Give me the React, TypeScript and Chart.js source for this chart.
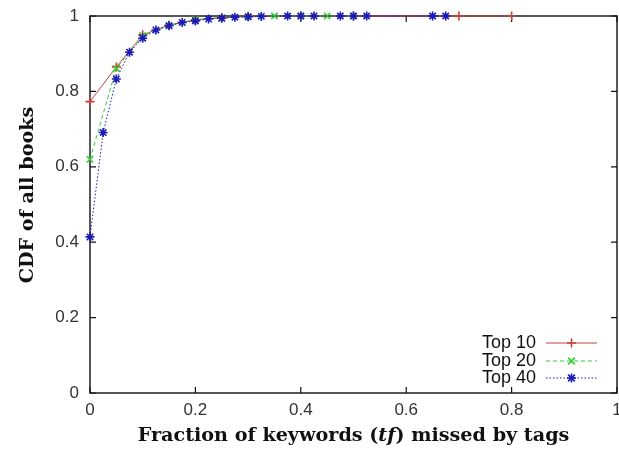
import React, { useEffect, useRef } from "react";
import { Chart, registerables } from "chart.js";

Chart.register(...registerables);

// ---- data ----
const top10X = [0, 0.05, 0.1, 0.15, 0.2, 0.25, 0.3, 0.4, 0.5, 0.7, 0.8];
const top10Y = [0.773, 0.865, 0.95, 0.976, 0.99, 0.996, 0.999, 1, 1, 1, 1];
const top20X = [0, 0.05, 0.1, 0.15, 0.2, 0.25, 0.3, 0.35, 0.4, 0.45, 0.5];
const top20Y = [0.62, 0.861, 0.948, 0.975, 0.99, 0.995, 0.998, 1, 1, 1, 1];
const top40X = [0, 0.025, 0.05, 0.075, 0.1, 0.125, 0.15, 0.175, 0.2, 0.225, 0.25, 0.275, 0.3, 0.325, 0.375, 0.4, 0.425, 0.475, 0.5, 0.525, 0.65, 0.675];
const top40Y = [0.414, 0.691, 0.833, 0.904, 0.941, 0.963, 0.974, 0.983, 0.987, 0.992, 0.994, 0.997, 0.998, 0.999, 1, 1, 1, 1, 1, 1, 1, 1];
const seriesLabels = ["Top 10", "Top 20", "Top 40"];
const seriesColors = ["#c8403c", "#33cc33", "#1a1ab4"];
const seriesDash: number[][] = [[], [4, 3], [1.5, 2]];
const seriesMarkers = ["cross", "crossRot", "star"];
const xTicks = [0, 0.2, 0.4, 0.6, 0.8, 1];
const xTickLabels = ["0", "0.2", "0.4", "0.6", "0.8", "1"];
const yTicks = [0, 0.2, 0.4, 0.6, 0.8, 1];
const yTickLabels = ["0", "0.2", "0.4", "0.6", "0.8", "1"];
const xTitleParts = [
  { text: "Fraction of keywords (", italic: false },
  { text: "tf", italic: true },
  { text: ") missed by tags", italic: false },
];
const yTitle = "CDF of all books";

const TITLE_FAMILY = '"DejaVu Serif", "Liberation Serif", serif';
const SANS = '"Liberation Sans", Arial, sans-serif';
const LEGEND_FONT = '18px "Liberation Sans", Arial, sans-serif';

function drawMarker(ctx: CanvasRenderingContext2D, style: string, x: number, y: number, r: number) {
  ctx.beginPath();
  if (style === "cross" || style === "star") {
    ctx.moveTo(x - r, y); ctx.lineTo(x + r, y);
    ctx.moveTo(x, y - r); ctx.lineTo(x, y + r);
  }
  if (style === "crossRot" || style === "star") {
    const d = r * 0.75;
    ctx.moveTo(x - d, y - d); ctx.lineTo(x + d, y + d);
    ctx.moveTo(x - d, y + d); ctx.lineTo(x + d, y - d);
  }
  ctx.stroke();
}

const framePlugin = {
  id: "frame",
  beforeDatasetsDraw(chart: any) {
    const { ctx, chartArea: a, scales } = chart;
    ctx.save();
    ctx.strokeStyle = "#111";
    ctx.lineWidth = 1.4;
    ctx.strokeRect(a.left, a.top, a.right - a.left, a.bottom - a.top);
    ctx.lineWidth = 1.2;
    const len = 6;
    ctx.beginPath();
    for (const v of xTicks) {
      const px = scales.x.getPixelForValue(v);
      ctx.moveTo(px, a.bottom); ctx.lineTo(px, a.bottom - len);
      ctx.moveTo(px, a.top); ctx.lineTo(px, a.top + len);
    }
    for (const v of yTicks) {
      const py = scales.y.getPixelForValue(v);
      ctx.moveTo(a.left, py); ctx.lineTo(a.left + len, py);
      ctx.moveTo(a.right, py); ctx.lineTo(a.right - len, py);
    }
    ctx.stroke();
    ctx.restore();
  },
};

const titlesPlugin = {
  id: "titles",
  afterDraw(chart: any) {
    const { ctx, chartArea: a } = chart;
    ctx.save();
    ctx.fillStyle = "#111";
    ctx.textBaseline = "middle";
    const base = 16;
    const fontFor = (s: number, it: boolean) => `${it ? "italic " : ""}bold ${s}px ${TITLE_FAMILY}`;
    let w = 0;
    for (const p of xTitleParts) { ctx.font = fontFor(base, p.italic); w += ctx.measureText(p.text).width; }
    const size = base * 432 / w;
    let total = 0;
    const widths: number[] = [];
    for (const p of xTitleParts) { ctx.font = fontFor(size, p.italic); const ww = ctx.measureText(p.text).width; widths.push(ww); total += ww; }
    const cx = (a.left + a.right) / 2;
    let x = cx - total / 2;
    ctx.textAlign = "left";
    xTitleParts.forEach((p, i) => {
      ctx.font = fontFor(size, p.italic);
      ctx.fillText(p.text, x, 436);
      x += widths[i];
    });
    ctx.font = fontFor(size, false);
    ctx.translate(28, 195);
    ctx.rotate(-Math.PI / 2);
    ctx.textAlign = "center";
    ctx.fillText(yTitle, 0, 0);
    ctx.restore();
  },
};

const legendPlugin = {
  id: "customLegend",
  afterDraw(chart: any) {
    const { ctx } = chart;
    const rows = [343, 361, 378];
    ctx.save();
    chart.data.datasets.forEach((ds: any, i: number) => {
      const y = rows[i];
      ctx.font = LEGEND_FONT;
      ctx.fillStyle = "#111";
      ctx.textAlign = "right";
      ctx.textBaseline = "middle";
      ctx.fillText(ds.label, 536, y);
      ctx.strokeStyle = ds.borderColor;
      ctx.lineWidth = 1;
      ctx.setLineDash(ds.borderDash || []);
      ctx.beginPath();
      ctx.moveTo(546, y); ctx.lineTo(597, y);
      ctx.stroke();
      ctx.setLineDash([]);
      ctx.lineWidth = 1.6;
      drawMarker(ctx, ds.pointStyle, 571.5, y, 4.5);
    });
    ctx.restore();
  },
};

export default function App() {
  const ref = useRef<HTMLCanvasElement>(null);
  useEffect(() => {
    document.body.style.margin = "0";
    const xs = [top10X, top20X, top40X];
    const ys = [top10Y, top20Y, top40Y];
    const chart = new Chart(ref.current!, {
      type: "line",
      data: {
        datasets: seriesLabels.map((label, i) => ({
          label,
          order: seriesLabels.length - 1 - i,
          data: xs[i].map((x, j) => ({ x, y: ys[i][j] })),
          borderColor: seriesColors[i],
          backgroundColor: seriesColors[i],
          borderWidth: 1,
          borderDash: seriesDash[i],
          pointStyle: seriesMarkers[i] as any,
          pointRadius: 4.5,
          pointBorderWidth: 1.6,
          pointBorderColor: seriesColors[i],
          fill: false,
          tension: 0,
          clip: false as any,
        })),
      },
      options: {
        animation: false,
        responsive: false,
        layout: { autoPadding: false, padding: { top: 16, right: 2, left: 0, bottom: 0 } },
        plugins: { legend: { display: false }, tooltip: { enabled: false } },
        scales: {
          x: {
            type: "linear",
            min: 0,
            max: 1,
            afterBuildTicks: (s: any) => { s.ticks = xTicks.map((v) => ({ value: v })); },
            ticks: {
              font: { family: SANS, size: 17 }, color: "#333", padding: 7, maxRotation: 0,
              callback: (_v: any, i: number) => xTickLabels[i],
            },
            grid: { display: false, drawTicks: false },
            border: { display: false },
            afterFit: (s: any) => { s.height = 59; s.paddingLeft = 0; s.paddingRight = 0; },
          },
          y: {
            type: "linear",
            min: 0,
            max: 1,
            afterBuildTicks: (s: any) => { s.ticks = yTicks.map((v) => ({ value: v })); },
            ticks: {
              font: { family: SANS, size: 17 }, color: "#333", padding: 11,
              callback: (_v: any, i: number) => yTickLabels[i],
            },
            grid: { display: false, drawTicks: false },
            border: { display: false },
            afterFit: (s: any) => { s.width = 90; s.paddingTop = 0; s.paddingBottom = 0; },
          },
        },
      },
      plugins: [framePlugin, titlesPlugin, legendPlugin],
    });
    return () => chart.destroy();
  }, []);
  return (
    <div style={{ width: 619, height: 452, background: "#fff" }}>
      <canvas ref={ref} width={619} height={452} style={{ display: "block" }} />
    </div>
  );
}
